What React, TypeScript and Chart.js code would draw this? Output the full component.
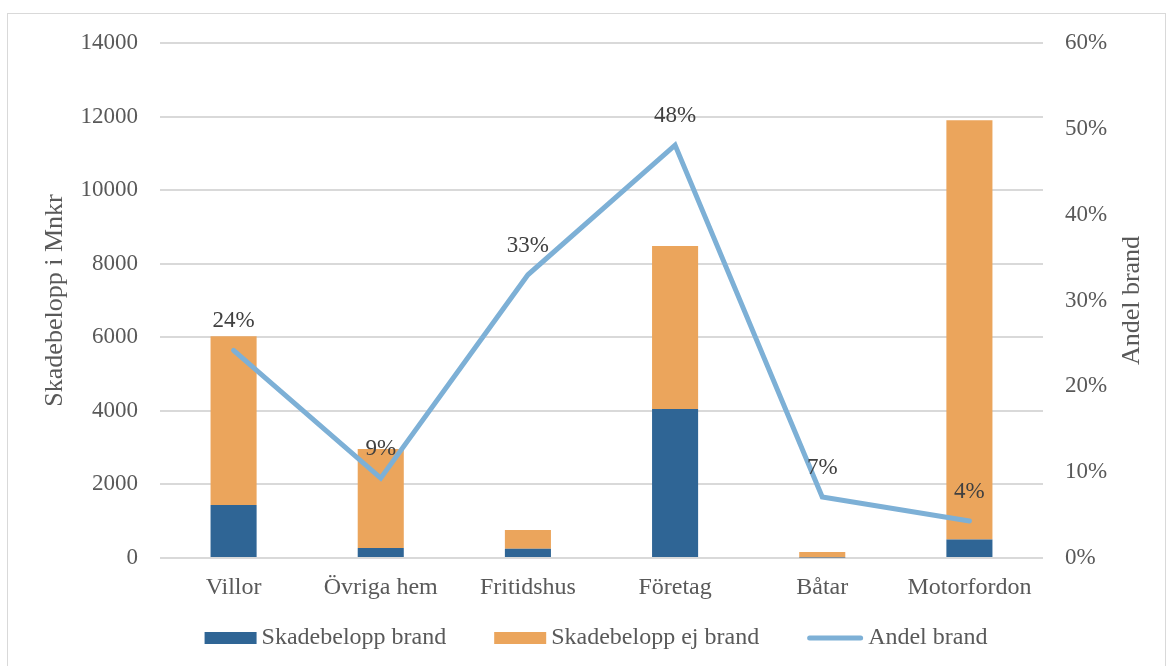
import React, { useEffect, useRef } from "react";
import { Chart, registerables } from "chart.js";

Chart.register(...registerables);

const categories = ["Villor", "Övriga hem", "Fritidshus", "Företag", "Båtar", "Motorfordon"];
const seriesNames = ["Skadebelopp brand", "Skadebelopp ej brand", "Andel brand"];
const skadebeloppBrand = [1440, 270, 250, 4050, 11, 500];
const skadebeloppEjBrand = [4590, 2690, 510, 4430, 149, 11400];
const andelBrand = [24.2, 9.3, 33.0, 48.1, 7.1, 4.3];
const leftAxis = { min: 0, max: 14000, step: 2000, title: "Skadebelopp i Mnkr" };
const rightAxis = { min: 0, max: 60, step: 10, title: "Andel brand" };

const BLUE = "#2F6595";
const ORANGE = "#EBA55C";
const LINE = "#7DB0D6";
const TEXT = "#595959";
const GRID = "#d9d9d9";
const FONT = "'Liberation Serif', 'Times New Roman', serif";

const dataLabelsPlugin = {
  id: "dataLabels",
  afterDatasetsDraw(chart: any) {
    const ctx = chart.ctx;
    const meta = chart.getDatasetMeta(2);
    ctx.save();
    ctx.font = `23px ${FONT}`;
    ctx.fillStyle = "#404040";
    ctx.textAlign = "center";
    ctx.textBaseline = "middle";
    meta.data.forEach((pt: any, i: number) => {
      const v = chart.data.datasets[2].data[i];
      ctx.fillText(Math.round(v) + "%", pt.x, pt.y - 29);
    });
    ctx.restore();
  },
};

const extrasPlugin = {
  id: "extras",
  afterDraw(chart: any) {
    const ctx = chart.ctx;
    ctx.save();
    // right axis title (reads bottom to top)
    const area = chart.chartArea;
    ctx.font = `26px ${FONT}`;
    ctx.fillStyle = TEXT;
    ctx.textAlign = "center";
    ctx.textBaseline = "middle";
    ctx.translate(1132, (area.top + area.bottom) / 2);
    ctx.rotate(-Math.PI / 2);
    ctx.fillText(rightAxis.title, 0, 0);
    ctx.restore();

    // legend
    ctx.save();
    ctx.font = `24px ${FONT}`;
    const ds = chart.data.datasets;
    const order = [0, 1, 2];
    const markerW = (d: any) => (d.type === "line" ? 56 : 52);
    const gapText = 5;
    const gapItem = 48;
    let total = 0;
    order.forEach((k, j) => {
      total += markerW(ds[k]) + gapText + ctx.measureText(ds[k].label).width;
      if (j < order.length - 1) total += gapItem;
    });
    let x = 596 - total / 2;
    const cy = 638;
    order.forEach((k) => {
      const d = ds[k];
      const w = markerW(d);
      if (d.type === "line") {
        ctx.strokeStyle = d.borderColor;
        ctx.lineWidth = 5;
        ctx.lineCap = "round";
        ctx.beginPath();
        ctx.moveTo(x + 2.5, cy);
        ctx.lineTo(x + w - 2.5, cy);
        ctx.stroke();
      } else {
        ctx.fillStyle = d.backgroundColor;
        ctx.fillRect(x, cy - 6, w, 12);
      }
      x += w + gapText;
      ctx.fillStyle = TEXT;
      ctx.textAlign = "left";
      ctx.textBaseline = "alphabetic";
      ctx.fillText(d.label, x, cy + 6);
      x += ctx.measureText(d.label).width + gapItem;
    });
    ctx.restore();
  },
};

export default function App() {
  const ref = useRef<HTMLCanvasElement>(null);

  useEffect(() => {
    if (!ref.current) return;
    Chart.defaults.font.family = FONT;
    const chart = new Chart(ref.current, {
      type: "bar",
      data: {
        labels: categories,
        datasets: [
          {
            type: "bar",
            label: seriesNames[0],
            data: skadebeloppBrand,
            backgroundColor: BLUE,
            yAxisID: "y",
            stack: "s",
            order: 2,
            barPercentage: 0.313,
            categoryPercentage: 1,
          },
          {
            type: "bar",
            label: seriesNames[1],
            data: skadebeloppEjBrand,
            backgroundColor: ORANGE,
            yAxisID: "y",
            stack: "s",
            order: 2,
            barPercentage: 0.313,
            categoryPercentage: 1,
          },
          {
            type: "line",
            label: seriesNames[2],
            data: andelBrand,
            borderColor: LINE,
            backgroundColor: LINE,
            borderWidth: 5,
            pointRadius: 0,
            borderCapStyle: "round",
            borderJoinStyle: "miter",
            yAxisID: "y1",
            order: 0,
          },
        ],
      } as any,
      options: {
        animation: false,
        responsive: false,
        devicePixelRatio: 1,
        layout: { padding: { top: 43, left: 0, right: 0, bottom: 0 } },
        plugins: {
          legend: { display: false },
          tooltip: { enabled: false },
        },
        scales: {
          x: {
            stacked: true,
            grid: { display: false, drawTicks: false },
            border: { display: false },
            ticks: { color: TEXT, font: { size: 24, family: FONT }, padding: 15 },
            afterFit: (s: any) => {
              s.height = 108;
            },
          },
          y: {
            stacked: true,
            position: "left",
            min: leftAxis.min,
            max: leftAxis.max,
            grid: { color: GRID, lineWidth: 2, drawTicks: false },
            border: { display: false },
            ticks: {
              stepSize: leftAxis.step,
              color: TEXT,
              font: { size: 23, family: FONT },
              padding: 22,
              callback: (v: any) => String(v),
            },
            title: {
              display: true,
              text: leftAxis.title,
              color: TEXT,
              font: { size: 26, family: FONT },
              padding: { top: 40, bottom: 0 },
            },
            afterFit: (s: any) => {
              s.width = 160;
            },
          },
          y1: {
            position: "right",
            min: rightAxis.min,
            max: rightAxis.max,
            grid: { drawOnChartArea: false, drawTicks: false },
            border: { display: false },
            ticks: {
              stepSize: rightAxis.step,
              color: TEXT,
              font: { size: 23, family: FONT },
              padding: 22,
              callback: (v: any) => v + "%",
            },
            afterFit: (s: any) => {
              s.width = 126;
            },
          },
        },
      } as any,
      plugins: [dataLabelsPlugin, extrasPlugin],
    });
    return () => chart.destroy();
  }, []);

  return (
    <div
      style={{
        position: "fixed",
        left: 0,
        top: 0,
        width: 1169,
        height: 666,
        overflow: "hidden",
        background: "#fff",
      }}
    >
      <div
        style={{
          position: "absolute",
          left: 7,
          top: 13,
          width: 1159,
          height: 700,
          border: `1px solid ${GRID}`,
          boxSizing: "border-box",
        }}
      />
      <canvas
        ref={ref}
        width={1169}
        height={666}
        style={{ position: "absolute", left: 0, top: 0, width: 1169, height: 666 }}
      />
    </div>
  );
}
